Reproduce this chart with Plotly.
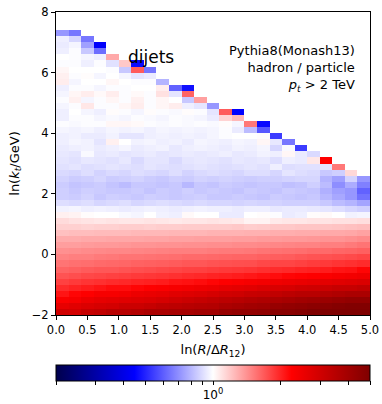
import numpy as np
import plotly.graph_objects as go

# Lund-plane ratio (hadron / particle), rows from y=-2 (bottom) upward, 25 x-bins of 0.2
ratio_rows = [
    [3.0, 2.95, 3.2, 3.3, 3.5, 3.5, 3.6, 3.8, 3.8, 3.9, 3.9, 4.0, 4.0, 4.3, 4.4, 4.4, 4.5, 4.7, 4.7, 4.8, 5.0, 5.0, 5.1, 5.2, 5.3],
    [2.6, 2.7, 2.8, 2.9, 2.95, 3.1, 3.1, 3.2, 3.35, 3.4, 3.5, 3.55, 3.6, 3.8, 3.9, 4.0, 4.1, 4.3, 4.4, 4.5, 4.6, 4.7, 4.8, 4.9, 4.9],
    [2.3, 2.35, 2.5, 2.6, 2.65, 2.7, 2.75, 2.8, 2.9, 3.0, 3.1, 3.2, 3.3, 3.4, 3.5, 3.6, 3.7, 3.8, 3.9, 4.0, 4.1, 4.2, 4.3, 4.4, 4.4],
    [2.1, 2.2, 2.25, 2.35, 2.35, 2.4, 2.5, 2.55, 2.6, 2.7, 2.75, 2.8, 2.9, 3.0, 3.05, 3.15, 3.2, 3.3, 3.4, 3.5, 3.5, 3.6, 3.7, 3.8, 3.8],
    [1.95, 2.0, 2.05, 2.1, 2.15, 2.15, 2.2, 2.25, 2.3, 2.35, 2.4, 2.45, 2.5, 2.6, 2.65, 2.7, 2.8, 2.85, 2.9, 3.0, 3.05, 3.1, 3.2, 3.2, 3.3],
    [1.82, 1.86, 1.9, 1.92, 1.95, 1.97, 2.0, 2.02, 2.05, 2.1, 2.12, 2.15, 2.2, 2.25, 2.3, 2.35, 2.4, 2.45, 2.5, 2.55, 2.6, 2.65, 2.7, 2.75, 2.8],
    [1.72, 1.75, 1.78, 1.8, 1.82, 1.84, 1.86, 1.88, 1.9, 1.92, 1.95, 1.97, 2.0, 2.02, 2.05, 2.08, 2.12, 2.15, 2.2, 2.22, 2.25, 2.3, 2.35, 2.4, 2.45],
    [1.63, 1.65, 1.68, 1.7, 1.7, 1.72, 1.74, 1.76, 1.78, 1.8, 1.82, 1.83, 1.85, 1.87, 1.88, 1.9, 1.93, 1.95, 1.97, 2.0, 2.02, 2.05, 2.1, 2.12, 2.2],
    [1.55, 1.57, 1.58, 1.6, 1.61, 1.62, 1.64, 1.65, 1.66, 1.68, 1.7, 1.7, 1.72, 1.73, 1.74, 1.75, 1.78, 1.8, 1.8, 1.82, 1.85, 1.87, 1.9, 1.92, 1.95],
    [1.48, 1.5, 1.5, 1.52, 1.53, 1.55, 1.55, 1.56, 1.57, 1.58, 1.6, 1.6, 1.61, 1.62, 1.63, 1.63, 1.65, 1.66, 1.67, 1.7, 1.72, 1.73, 1.75, 1.77, 1.8],
    [1.42, 1.43, 1.44, 1.45, 1.46, 1.46, 1.47, 1.48, 1.49, 1.5, 1.5, 1.5, 1.51, 1.52, 1.52, 1.53, 1.55, 1.56, 1.57, 1.58, 1.6, 1.6, 1.62, 1.63, 1.65],
    [1.36, 1.36, 1.37, 1.38, 1.38, 1.39, 1.4, 1.4, 1.41, 1.41, 1.42, 1.42, 1.43, 1.43, 1.44, 1.44, 1.45, 1.46, 1.47, 1.48, 1.48, 1.5, 1.5, 1.52, 1.55],
    [1.3, 1.3, 1.31, 1.31, 1.32, 1.32, 1.32, 1.33, 1.33, 1.34, 1.34, 1.35, 1.35, 1.35, 1.36, 1.36, 1.37, 1.37, 1.38, 1.38, 1.39, 1.4, 1.4, 1.42, 1.44],
    [1.22, 1.23, 1.23, 1.24, 1.24, 1.24, 1.25, 1.25, 1.25, 1.26, 1.26, 1.26, 1.27, 1.27, 1.27, 1.28, 1.28, 1.29, 1.29, 1.3, 1.3, 1.31, 1.31, 1.32, 1.34],
    [1.16, 1.16, 1.15, 1.16, 1.16, 1.17, 1.17, 1.16, 1.17, 1.17, 1.18, 1.18, 1.18, 1.18, 1.19, 1.17, 1.18, 1.19, 1.19, 1.2, 1.2, 1.2, 1.21, 1.22, 1.23],
    [1.12, 1.1, 1.09, 1.08, 1.09, 1.08, 1.08, 1.09, 1.08, 1.07, 1.08, 1.08, 1.09, 1.08, 1.07, 1.04, 1.04, 1.07, 1.08, 1.08, 1.09, 1.09, 1.1, 1.1, 1.11],
    [1.05, 1.04, 1.01, 1.0, 1.0, 0.98, 0.97, 1.0, 0.96, 0.95, 1.02, 1.0, 1.0, 0.94, 0.94, 1.0, 1.01, 0.99, 0.94, 0.95, 1.01, 1.02, 1.0, 0.96, 0.97],
    [0.96, 0.97, 0.95, 0.96, 0.95, 0.94, 0.95, 0.96, 0.95, 0.94, 0.95, 0.96, 0.95, 0.95, 0.94, 0.95, 0.95, 0.93, 0.94, 0.94, 0.93, 0.92, 0.9, 0.88, 0.86],
    [0.9, 0.89, 0.9, 0.88, 0.89, 0.9, 0.88, 0.89, 0.9, 0.89, 0.88, 0.89, 0.88, 0.88, 0.87, 0.88, 0.87, 0.87, 0.86, 0.86, 0.86, 0.84, 0.81, 0.79, 0.75],
    [0.86, 0.85, 0.87, 0.84, 0.86, 0.85, 0.84, 0.86, 0.85, 0.84, 0.85, 0.86, 0.84, 0.84, 0.85, 0.84, 0.83, 0.85, 0.84, 0.83, 0.84, 0.8, 0.76, 0.72, 0.64],
    [0.86, 0.84, 0.86, 0.85, 0.84, 0.84, 0.85, 0.83, 0.85, 0.84, 0.86, 0.84, 0.85, 0.84, 0.83, 0.85, 0.84, 0.83, 0.85, 0.84, 0.83, 0.78, 0.74, 0.72, 0.61],
    [0.85, 0.83, 0.84, 0.85, 0.83, 0.81, 0.84, 0.84, 0.83, 0.84, 0.8, 0.84, 0.83, 0.85, 0.84, 0.83, 0.84, 0.84, 0.82, 0.83, 0.86, 0.81, 0.7, 0.77, 0.67],
    [0.87, 0.85, 0.86, 0.88, 0.85, 0.86, 0.87, 0.85, 0.84, 0.86, 0.85, 0.87, 0.86, 0.87, 0.86, 0.85, 0.86, 0.86, 0.87, 0.88, 0.88, 0.79, 0.74, 0.87, 0.72],
    [0.89, 0.88, 0.9, 0.87, 0.89, 0.88, 0.9, 0.89, 0.88, 0.9, 0.87, 0.89, 0.9, 0.89, 0.88, 0.9, 0.9, 0.88, 0.92, 0.9, 0.89, 0.84, 0.86, 1.13],
    [0.91, 0.92, 0.9, 0.91, 0.92, 0.91, 0.9, 0.92, 0.91, 0.9, 0.91, 0.92, 0.91, 0.9, 0.91, 0.92, 0.91, 0.95, 0.9, 0.91, 0.91, 0.92, 1.53],
    [0.92, 0.91, 0.93, 0.92, 0.91, 0.93, 0.89, 0.92, 0.92, 0.89, 0.92, 0.93, 0.92, 0.91, 0.93, 0.92, 0.93, 0.9, 0.95, 0.94, 1.08, 2.24],
    [0.93, 0.92, 0.98, 0.93, 0.94, 0.92, 0.93, 0.94, 0.92, 0.93, 0.94, 0.93, 0.94, 0.95, 0.93, 0.94, 0.96, 0.95, 1.03, 0.94, 0.89],
    [0.94, 0.95, 0.96, 0.94, 0.95, 0.97, 0.94, 0.95, 0.96, 0.93, 0.95, 0.96, 0.95, 0.94, 0.96, 0.95, 0.97, 0.88, 0.98, 0.54],
    [0.95, 0.97, 0.96, 0.92, 1.05, 1.0, 0.96, 0.97, 0.95, 0.96, 0.94, 0.97, 0.96, 0.95, 0.97, 0.96, 1.03, 0.93, 0.65],
    [0.95, 0.96, 0.94, 0.94, 0.96, 0.92, 0.92, 0.95, 0.96, 0.95, 0.96, 0.95, 0.97, 0.99, 1.0, 1.0, 1.01, 0.54, 1.0],
    [0.97, 0.96, 0.97, 0.95, 0.97, 0.96, 0.97, 0.95, 0.97, 0.96, 0.97, 0.96, 0.97, 0.99, 0.94, 0.81, 0.59],
    [0.99, 0.98, 0.99, 0.99, 1.03, 1.03, 1.02, 0.99, 0.98, 0.99, 0.98, 0.99, 0.98, 1.01, 0.97, 1.53, 0.46],
    [0.95, 0.99, 0.99, 0.97, 0.98, 0.97, 0.99, 0.98, 0.97, 0.99, 0.98, 0.97, 0.94, 1.15, 1.25],
    [0.95, 1.0, 0.97, 0.95, 1.01, 0.99, 0.97, 1.01, 0.99, 0.98, 1.01, 0.99, 0.92, 1.68, 0.45],
    [0.97, 0.99, 1.08, 0.99, 0.99, 1.03, 1.06, 0.99, 1.03, 1.06, 0.95, 0.92, 0.72],
    [0.99, 1.05, 0.97, 0.99, 1.03, 0.99, 1.05, 0.99, 1.03, 1.0, 0.84, 1.35],
    [0.97, 1.03, 1.06, 1.02, 1.06, 0.99, 1.02, 0.99, 1.1, 0.92, 1.63],
    [0.95, 0.99, 0.99, 0.97, 0.99, 0.99, 1.0, 1.0, 1.06, 0.61, 0.47],
    [1.06, 0.97, 1.0, 1.0, 1.03, 1.0, 0.99, 0.99, 0.79],
    [1.05, 0.99, 1.01, 0.97, 1.0, 0.97, 0.92, 0.94],
    [1.03, 1.0, 1.0, 1.0, 0.99, 0.84, 1.68, 0.65],
    [0.99, 0.99, 0.95, 0.99, 0.91, 1.19, 0.46],
    [1.0, 0.99, 0.97, 0.95, 1.31],
    [0.95, 0.99, 0.84, 0.63],
    [0.94, 0.97, 0.74, 0.44],
    [0.95, 0.88, 0.65],
    [0.72, 0.65],
    [1.0],
    [],
    [],
]

n_x = 25
z_rows = []
for row in ratio_rows:
    full = list(row) + [None] * (n_x - len(row))
    z_rows.append([np.log10(v) if v is not None else None for v in full])

zlim = np.log10(5.0)
cbar_vals = [0.2, 0.3, 0.4, 0.5, 0.6, 0.7, 0.8, 0.9, 1.0, 2.0, 3.0, 4.0, 5.0]
cbar_text = ["10<sup>0</sup>" if v == 1.0 else "" for v in cbar_vals]

seismic = [
    [0.0, "rgb(0,0,76)"],
    [0.25, "rgb(0,0,255)"],
    [0.5, "rgb(255,255,255)"],
    [0.75, "rgb(255,0,0)"],
    [1.0, "rgb(127,0,0)"],
]

FONT = "DejaVu Sans"
W, H = 382, 404
# plot frame in pixels: left 56, right 370, top 12, bottom 315
def px_x(p):
    return p / W

def px_y(p):
    return (H - p) / H

fig = go.Figure(
    go.Heatmap(
        z=z_rows,
        x0=0.1, dx=0.2,
        y0=-1.9, dy=0.2,
        zmin=-zlim, zmax=zlim,
        colorscale=seismic,
        hoverongaps=False,
        colorbar=dict(
            orientation="h",
            x=px_x(213), xanchor="center",
            y=px_y(365), yanchor="top",
            lenmode="pixels", len=314,
            thickness=16,
            xpad=0, ypad=0,
            outlinewidth=1, outlinecolor="black",
            tickmode="array",
            tickvals=[np.log10(v) for v in cbar_vals],
            ticktext=cbar_text,
            tickangle=0,
            ticks="outside", ticklen=4, tickcolor="black",
            tickfont=dict(family=FONT, size=12, color="black"),
        ),
    )
)

fig.update_xaxes(
    domain=[px_x(56), px_x(370)],
    automargin=False,
    range=[0, 5], tick0=0, dtick=0.5, tickformat=".1f",
    ticks="outside", ticklen=4, tickcolor="black",
    showline=True, linecolor="black", linewidth=1, mirror=True,
    showgrid=False, zeroline=False,
    tickfont=dict(family=FONT, size=11.5, color="black"),
    title=dict(text="ln(<i>R</i>/Δ<i>R</i><sub>12</sub>)", font=dict(family=FONT, size=13, color="black"), standoff=9),
)
fig.update_yaxes(
    domain=[px_y(315), px_y(12)],
    automargin=False,
    range=[-2, 8], tickvals=[-2, 0, 2, 4, 6, 8],
    ticks="outside", ticklen=4, tickcolor="black",
    showline=True, linecolor="black", linewidth=1, mirror=True,
    showgrid=False, zeroline=False,
    tickfont=dict(family=FONT, size=11.5, color="black"),
    title=dict(text="ln(<i>k<sub>t</sub></i>/GeV)", font=dict(family=FONT, size=13, color="black"), standoff=9),
)

annotations = [
    dict(text="dijets", x=px_x(150.5), y=px_y(56.8), xanchor="center", font=dict(size=17)),
    dict(text="Pythia8(Monash13)<br>hadron / particle<br><i>p<sub>t</sub></i> &gt; 2 TeV",
         x=px_x(357), y=px_y(68), xanchor="right", align="right", font=dict(size=13)),
]
for a in annotations:
    a["xref"] = "paper"
    a["yref"] = "paper"
    a["yanchor"] = "middle"
    a["showarrow"] = False
    a["font"] = dict(family=FONT, color="black", **a["font"])

fig.update_layout(
    width=W, height=H,
    margin=dict(l=0, r=0, t=0, b=0, autoexpand=False),
    paper_bgcolor="white", plot_bgcolor="white",
    font=dict(family=FONT, color="black"),
    annotations=annotations,
)

fig.write_html("out.html")
